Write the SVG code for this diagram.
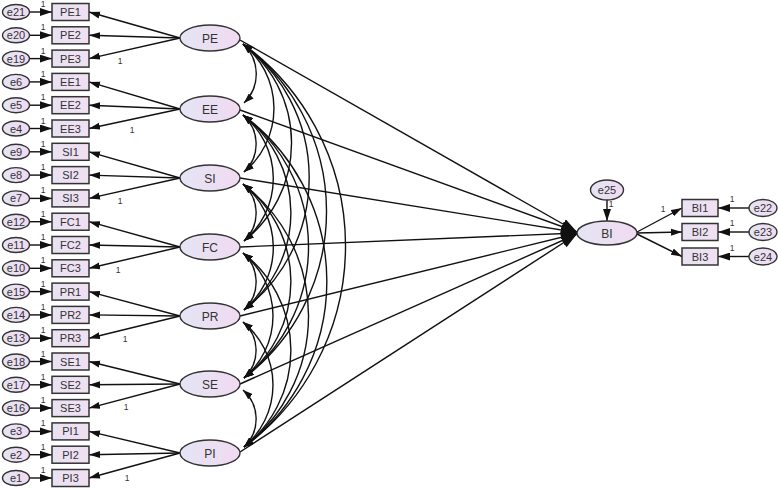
<svg xmlns="http://www.w3.org/2000/svg" width="778" height="489" viewBox="0 0 778 489">
<defs>
<linearGradient id="gl" x1="0" y1="0" x2="1" y2="0">
<stop offset="0" stop-color="#e4e5f4"/>
<stop offset="1" stop-color="#f1daf1"/>
</linearGradient>
<linearGradient id="gb" x1="0" y1="0" x2="1" y2="0">
<stop offset="0" stop-color="#e8e2f2"/>
<stop offset="1" stop-color="#f0dff1"/>
</linearGradient>
<marker id="ind" markerUnits="userSpaceOnUse" markerWidth="11" markerHeight="8" refX="11" refY="4" orient="auto"><path d="M0,0.5 L11,4 L0,7.5 z" fill="#111"/></marker>
<marker id="err" markerUnits="userSpaceOnUse" markerWidth="12" markerHeight="8" refX="12" refY="4" orient="auto"><path d="M0,0 L12,4 L0,8 z" fill="#111"/></marker>
<marker id="big" markerUnits="userSpaceOnUse" markerWidth="16" markerHeight="11" refX="16" refY="5.5" orient="auto"><path d="M0,0 L16,5.5 L0,11 z" fill="#111"/></marker>
<marker id="cov" markerUnits="userSpaceOnUse" markerWidth="10" markerHeight="7" refX="10" refY="3.5" orient="auto"><path d="M0,0 L10,3.5 L0,7 z" fill="#111"/></marker>
<marker id="covs" markerUnits="userSpaceOnUse" markerWidth="10" markerHeight="7" refX="0" refY="3.5" orient="auto"><path d="M10,0 L0,3.5 L10,7 z" fill="#111"/></marker>
</defs>
<style>
.lat{fill:url(#gl);stroke:#333;stroke-width:1.4}
.err{fill:url(#gl);stroke:#333;stroke-width:1.4}
.box{fill:url(#gb);stroke:#333;stroke-width:1.5}
text{font-family:"Liberation Sans",Arial,sans-serif;fill:#333;text-anchor:middle}
.t{font-size:11px}
.tl{font-size:12px}
.one{font-size:8.5px}
.ln{stroke:#111;stroke-width:1.4;fill:none}
.li{marker-end:url(#ind)}
.le{marker-end:url(#err)}
.lb{marker-end:url(#big)}
.lc{marker-start:url(#covs);marker-end:url(#cov)}
</style>
<rect width="778" height="489" fill="#fff"/>

<g id="connectors">
<g class="ln le">
<line x1="29.5" y1="12" x2="52" y2="12"/>
<line x1="29.5" y1="35.3" x2="52" y2="35.3"/>
<line x1="29.5" y1="58.6" x2="52" y2="58.6"/>
<line x1="29.5" y1="81.9" x2="52" y2="81.9"/>
<line x1="29.5" y1="105.2" x2="52" y2="105.2"/>
<line x1="29.5" y1="128.5" x2="52" y2="128.5"/>
<line x1="29.5" y1="151.8" x2="52" y2="151.8"/>
<line x1="29.5" y1="175.1" x2="52" y2="175.1"/>
<line x1="29.5" y1="198.4" x2="52" y2="198.4"/>
<line x1="29.5" y1="221.7" x2="52" y2="221.7"/>
<line x1="29.5" y1="245" x2="52" y2="245"/>
<line x1="29.5" y1="268.3" x2="52" y2="268.3"/>
<line x1="29.5" y1="291.6" x2="52" y2="291.6"/>
<line x1="29.5" y1="314.9" x2="52" y2="314.9"/>
<line x1="29.5" y1="338.2" x2="52" y2="338.2"/>
<line x1="29.5" y1="361.5" x2="52" y2="361.5"/>
<line x1="29.5" y1="384.8" x2="52" y2="384.8"/>
<line x1="29.5" y1="408.1" x2="52" y2="408.1"/>
<line x1="29.5" y1="431.4" x2="52" y2="431.4"/>
<line x1="29.5" y1="454.7" x2="52" y2="454.7"/>
<line x1="29.5" y1="478" x2="52" y2="478"/>
<line x1="749" y1="208" x2="718" y2="208"/>
<line x1="749" y1="232" x2="718" y2="232"/>
<line x1="749" y1="256.5" x2="718" y2="256.5"/>
<line x1="607" y1="200" x2="607" y2="221"/>
</g>
<g class="ln li">
<line x1="180" y1="38" x2="89" y2="12"/>
<line x1="180" y1="38" x2="89" y2="35.3"/>
<line x1="180" y1="38" x2="89" y2="58.6"/>
<line x1="180" y1="109" x2="89" y2="81.9"/>
<line x1="180" y1="109" x2="89" y2="105.2"/>
<line x1="180" y1="109" x2="89" y2="128.5"/>
<line x1="180" y1="178" x2="89" y2="151.8"/>
<line x1="180" y1="178" x2="89" y2="175.1"/>
<line x1="180" y1="178" x2="89" y2="198.4"/>
<line x1="180" y1="247" x2="89" y2="221.7"/>
<line x1="180" y1="247" x2="89" y2="245"/>
<line x1="180" y1="247" x2="89" y2="268.3"/>
<line x1="180" y1="316" x2="89" y2="291.6"/>
<line x1="180" y1="316" x2="89" y2="314.9"/>
<line x1="180" y1="316" x2="89" y2="338.2"/>
<line x1="180" y1="384" x2="89" y2="361.5"/>
<line x1="180" y1="384" x2="89" y2="384.8"/>
<line x1="180" y1="384" x2="89" y2="408.1"/>
<line x1="180" y1="453" x2="89" y2="431.4"/>
<line x1="180" y1="453" x2="89" y2="454.7"/>
<line x1="180" y1="453" x2="89" y2="478"/>
<line x1="637" y1="232" x2="682" y2="208"/>
<line x1="637" y1="233" x2="682" y2="232"/>
<line x1="637" y1="234" x2="682" y2="256.5"/>
</g>
<g class="ln lb">
<line x1="240" y1="40" x2="577" y2="232"/>
<line x1="240" y1="110" x2="577" y2="232"/>
<line x1="240" y1="178" x2="577" y2="232.5"/>
<line x1="240" y1="247" x2="577" y2="233"/>
<line x1="240" y1="316" x2="577" y2="233.5"/>
<line x1="240" y1="384" x2="577" y2="234"/>
<line x1="240" y1="452" x2="577" y2="234"/>
</g>
<g class="ln lc">
<path d="M243,44 A40.5,40.5 0 0 1 244,103"/>
<path d="M243,44 A82.5,82.5 0 0 1 244,172"/>
<path d="M243,44 A125,125 0 0 1 244,241"/>
<path d="M243,44 A167.5,167.5 0 0 1 244,310"/>
<path d="M243,44 A209.5,209.5 0 0 1 244,378"/>
<path d="M243,44 A250,250 0 0 1 244,447"/>
<path d="M243,115 A38.5,38.5 0 0 1 244,172"/>
<path d="M243,115 A81.5,81.5 0 0 1 244,241"/>
<path d="M243,115 A124,124 0 0 1 244,310"/>
<path d="M243,115 A165.5,165.5 0 0 1 244,378"/>
<path d="M243,115 A207,207 0 0 1 244,447"/>
<path d="M243,184 A38.5,38.5 0 0 1 244,241"/>
<path d="M243,184 A81.5,81.5 0 0 1 244,310"/>
<path d="M243,184 A123,123 0 0 1 244,378"/>
<path d="M243,184 A165.5,165.5 0 0 1 244,447"/>
<path d="M243,253 A38.5,38.5 0 0 1 244,310"/>
<path d="M243,253 A81,81 0 0 1 244,378"/>
<path d="M243,253 A123,123 0 0 1 244,447"/>
<path d="M243,322 A37.5,37.5 0 0 1 244,378"/>
<path d="M243,322 A81,81 0 0 1 244,447"/>
<path d="M243,390 A38.5,38.5 0 0 1 244,447"/>
</g>
<g class="one">
<text x="43" y="7">1</text>
<text x="43" y="30.3">1</text>
<text x="43" y="53.6">1</text>
<text x="43" y="76.9">1</text>
<text x="43" y="100.2">1</text>
<text x="43" y="123.5">1</text>
<text x="43" y="146.8">1</text>
<text x="43" y="170.1">1</text>
<text x="43" y="193.4">1</text>
<text x="43" y="216.7">1</text>
<text x="43" y="240">1</text>
<text x="43" y="263.3">1</text>
<text x="43" y="286.6">1</text>
<text x="43" y="309.9">1</text>
<text x="43" y="333.2">1</text>
<text x="43" y="356.5">1</text>
<text x="43" y="379.8">1</text>
<text x="43" y="403.1">1</text>
<text x="43" y="426.4">1</text>
<text x="43" y="449.7">1</text>
<text x="43" y="473">1</text>
<text x="120" y="64">1</text>
<text x="132" y="133">1</text>
<text x="120" y="204">1</text>
<text x="118" y="273">1</text>
<text x="125" y="342">1</text>
<text x="126" y="410">1</text>
<text x="127" y="481">1</text>
<text x="611" y="207">1</text>
<text x="663" y="212">1</text>
<text x="732" y="202">1</text>
<text x="732" y="226">1</text>
<text x="732" y="250.5">1</text>
</g>
</g>

<g id="PE"><ellipse class="lat" cx="210" cy="38" rx="30" ry="13"/><text class="tl" x="210" y="42.5">PE</text></g>
<g id="EE"><ellipse class="lat" cx="210" cy="109" rx="30" ry="13"/><text class="tl" x="210" y="113.5">EE</text></g>
<g id="SI"><ellipse class="lat" cx="210" cy="178" rx="30" ry="13"/><text class="tl" x="210" y="182.5">SI</text></g>
<g id="FC"><ellipse class="lat" cx="210" cy="247" rx="30" ry="13"/><text class="tl" x="210" y="251.5">FC</text></g>
<g id="PR"><ellipse class="lat" cx="210" cy="316" rx="30" ry="13"/><text class="tl" x="210" y="320.5">PR</text></g>
<g id="SE"><ellipse class="lat" cx="210" cy="384" rx="30" ry="13"/><text class="tl" x="210" y="388.5">SE</text></g>
<g id="PI"><ellipse class="lat" cx="210" cy="453" rx="30" ry="13"/><text class="tl" x="210" y="457.5">PI</text></g>
<g id="BI"><ellipse class="lat" cx="607" cy="233" rx="30" ry="12"/><text class="tl" x="607" y="237.5">BI</text></g>

<g id="PE1"><rect class="box" x="52" y="3.5" width="37" height="17"/><text class="t" x="70.5" y="16">PE1</text></g>
<g id="PE2"><rect class="box" x="52" y="26.8" width="37" height="17"/><text class="t" x="70.5" y="39.3">PE2</text></g>
<g id="PE3"><rect class="box" x="52" y="50.1" width="37" height="17"/><text class="t" x="70.5" y="62.6">PE3</text></g>
<g id="EE1"><rect class="box" x="52" y="73.4" width="37" height="17"/><text class="t" x="70.5" y="85.9">EE1</text></g>
<g id="EE2"><rect class="box" x="52" y="96.7" width="37" height="17"/><text class="t" x="70.5" y="109.2">EE2</text></g>
<g id="EE3"><rect class="box" x="52" y="120" width="37" height="17"/><text class="t" x="70.5" y="132.5">EE3</text></g>
<g id="SI1"><rect class="box" x="52" y="143.3" width="37" height="17"/><text class="t" x="70.5" y="155.8">SI1</text></g>
<g id="SI2"><rect class="box" x="52" y="166.6" width="37" height="17"/><text class="t" x="70.5" y="179.1">SI2</text></g>
<g id="SI3"><rect class="box" x="52" y="189.9" width="37" height="17"/><text class="t" x="70.5" y="202.4">SI3</text></g>
<g id="FC1"><rect class="box" x="52" y="213.2" width="37" height="17"/><text class="t" x="70.5" y="225.7">FC1</text></g>
<g id="FC2"><rect class="box" x="52" y="236.5" width="37" height="17"/><text class="t" x="70.5" y="249">FC2</text></g>
<g id="FC3"><rect class="box" x="52" y="259.8" width="37" height="17"/><text class="t" x="70.5" y="272.3">FC3</text></g>
<g id="PR1"><rect class="box" x="52" y="283.1" width="37" height="17"/><text class="t" x="70.5" y="295.6">PR1</text></g>
<g id="PR2"><rect class="box" x="52" y="306.4" width="37" height="17"/><text class="t" x="70.5" y="318.9">PR2</text></g>
<g id="PR3"><rect class="box" x="52" y="329.7" width="37" height="17"/><text class="t" x="70.5" y="342.2">PR3</text></g>
<g id="SE1"><rect class="box" x="52" y="353" width="37" height="17"/><text class="t" x="70.5" y="365.5">SE1</text></g>
<g id="SE2"><rect class="box" x="52" y="376.3" width="37" height="17"/><text class="t" x="70.5" y="388.8">SE2</text></g>
<g id="SE3"><rect class="box" x="52" y="399.6" width="37" height="17"/><text class="t" x="70.5" y="412.1">SE3</text></g>
<g id="PI1"><rect class="box" x="52" y="422.9" width="37" height="17"/><text class="t" x="70.5" y="435.4">PI1</text></g>
<g id="PI2"><rect class="box" x="52" y="446.2" width="37" height="17"/><text class="t" x="70.5" y="458.7">PI2</text></g>
<g id="PI3"><rect class="box" x="52" y="469.5" width="37" height="17"/><text class="t" x="70.5" y="482">PI3</text></g>
<g id="BI1"><rect class="box" x="682" y="199.5" width="36" height="17"/><text class="t" x="700" y="212">BI1</text></g>
<g id="BI2"><rect class="box" x="682" y="223.5" width="36" height="17"/><text class="t" x="700" y="236">BI2</text></g>
<g id="BI3"><rect class="box" x="682" y="248" width="36" height="17"/><text class="t" x="700" y="260.5">BI3</text></g>

<g id="e21"><ellipse class="err" cx="16" cy="12" rx="13.5" ry="7.5"/><text class="t" x="16" y="16">e21</text></g>
<g id="e20"><ellipse class="err" cx="16" cy="35.3" rx="13.5" ry="7.5"/><text class="t" x="16" y="39.3">e20</text></g>
<g id="e19"><ellipse class="err" cx="16" cy="58.6" rx="13.5" ry="7.5"/><text class="t" x="16" y="62.6">e19</text></g>
<g id="e6"><ellipse class="err" cx="16" cy="81.9" rx="13.5" ry="7.5"/><text class="t" x="16" y="85.9">e6</text></g>
<g id="e5"><ellipse class="err" cx="16" cy="105.2" rx="13.5" ry="7.5"/><text class="t" x="16" y="109.2">e5</text></g>
<g id="e4"><ellipse class="err" cx="16" cy="128.5" rx="13.5" ry="7.5"/><text class="t" x="16" y="132.5">e4</text></g>
<g id="e9"><ellipse class="err" cx="16" cy="151.8" rx="13.5" ry="7.5"/><text class="t" x="16" y="155.8">e9</text></g>
<g id="e8"><ellipse class="err" cx="16" cy="175.1" rx="13.5" ry="7.5"/><text class="t" x="16" y="179.1">e8</text></g>
<g id="e7"><ellipse class="err" cx="16" cy="198.4" rx="13.5" ry="7.5"/><text class="t" x="16" y="202.4">e7</text></g>
<g id="e12"><ellipse class="err" cx="16" cy="221.7" rx="13.5" ry="7.5"/><text class="t" x="16" y="225.7">e12</text></g>
<g id="e11"><ellipse class="err" cx="16" cy="245" rx="13.5" ry="7.5"/><text class="t" x="16" y="249">e11</text></g>
<g id="e10"><ellipse class="err" cx="16" cy="268.3" rx="13.5" ry="7.5"/><text class="t" x="16" y="272.3">e10</text></g>
<g id="e15"><ellipse class="err" cx="16" cy="291.6" rx="13.5" ry="7.5"/><text class="t" x="16" y="295.6">e15</text></g>
<g id="e14"><ellipse class="err" cx="16" cy="314.9" rx="13.5" ry="7.5"/><text class="t" x="16" y="318.9">e14</text></g>
<g id="e13"><ellipse class="err" cx="16" cy="338.2" rx="13.5" ry="7.5"/><text class="t" x="16" y="342.2">e13</text></g>
<g id="e18"><ellipse class="err" cx="16" cy="361.5" rx="13.5" ry="7.5"/><text class="t" x="16" y="365.5">e18</text></g>
<g id="e17"><ellipse class="err" cx="16" cy="384.8" rx="13.5" ry="7.5"/><text class="t" x="16" y="388.8">e17</text></g>
<g id="e16"><ellipse class="err" cx="16" cy="408.1" rx="13.5" ry="7.5"/><text class="t" x="16" y="412.1">e16</text></g>
<g id="e3"><ellipse class="err" cx="16" cy="431.4" rx="13.5" ry="7.5"/><text class="t" x="16" y="435.4">e3</text></g>
<g id="e2"><ellipse class="err" cx="16" cy="454.7" rx="13.5" ry="7.5"/><text class="t" x="16" y="458.7">e2</text></g>
<g id="e1"><ellipse class="err" cx="16" cy="478" rx="13.5" ry="7.5"/><text class="t" x="16" y="482">e1</text></g>
<g id="e25"><ellipse class="err" cx="607" cy="190" rx="16.5" ry="10"/><text class="t" x="607" y="194">e25</text></g>
<g id="e22"><ellipse class="err" cx="763" cy="208" rx="14" ry="8.5"/><text class="t" x="763" y="212">e22</text></g>
<g id="e23"><ellipse class="err" cx="763" cy="232" rx="14" ry="8.5"/><text class="t" x="763" y="236">e23</text></g>
<g id="e24"><ellipse class="err" cx="763" cy="256.5" rx="14" ry="8.5"/><text class="t" x="763" y="260.5">e24</text></g>
</svg>
